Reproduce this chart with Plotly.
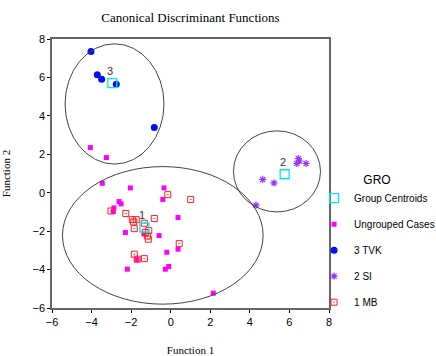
import plotly.graph_objects as go

# Group centroids
cent_x = [-1.33, 5.76, -2.95]
cent_y = [-1.81, 0.96, 5.70]
cent_lbl = ["1", "2", "3"]

# Ungrouped cases
ung_x = [-4.06, -3.25, -3.46, -2.04, -0.34, -0.40, -2.61, -2.51, -2.87, -2.90, 0.37,
         -2.29, -0.59, -1.35, -0.20, 0.37, -1.70, -2.19, -0.10, -0.27, 2.15]
ung_y = [2.35, 1.83, 0.49, 0.25, 0.25, -0.35, -0.46, -0.58, -0.79, -0.98, -1.29,
         -2.07, -2.23, -2.15, -3.10, -2.94, -3.48, -3.98, -3.84, -3.98, -5.23]

# 3 TVK
tvk_x = [-4.03, -3.71, -3.49, -2.75, -0.83]
tvk_y = [7.35, 6.14, 5.91, 5.65, 3.40]

# 2 SI
si_x = [6.45, 6.50, 6.37, 6.84, 4.65, 5.22, 4.31]
si_y = [1.78, 1.65, 1.52, 1.52, 0.69, 0.51, -0.65]

# 1 MB
mb_x = [-0.15, 1.01, -3.02, -2.27, -0.83, -1.94, -1.74, -1.87, -1.33, -1.84, -1.11,
        -1.28, -1.18, -1.13, 0.43, -1.84, -1.69, -1.33]
mb_y = [-0.10, -0.35, -0.95, -1.08, -1.34, -1.40, -1.40, -1.52, -1.59, -1.87, -1.97,
        -2.07, -2.25, -2.42, -2.65, -3.20, -3.46, -3.43]

# Ellipses around groups (center x, center y, radius x, radius y)
ell_cx = [-0.40, 5.37, -2.84]
ell_cy = [-2.22, 1.11, 4.62]
ell_rx = [5.07, 2.20, 2.50]
ell_ry = [3.58, 2.11, 3.13]

ticks = [-6, -4, -2, 0, 2, 4, 6, 8]

fig = go.Figure()
fig.add_trace(go.Scatter(x=ung_x, y=ung_y, mode="markers", name="Ungrouped Cases",
                         legendgroup="b", legendrank=2,
                         marker=dict(symbol="square", size=5, color="#ff00ff")))
fig.add_trace(go.Scatter(x=tvk_x, y=tvk_y, mode="markers", name="3 TVK",
                         legendgroup="c", legendrank=3,
                         marker=dict(symbol="circle", size=7, color="#0010f0")))
fig.add_trace(go.Scatter(x=si_x, y=si_y, mode="markers", name="2 SI",
                         legendgroup="d", legendrank=4,
                         marker=dict(symbol="asterisk-open", size=6, color="#9933ff",
                                     line=dict(color="#9933ff", width=1.2))))
fig.add_trace(go.Scatter(x=mb_x, y=mb_y, mode="markers", name="1 MB",
                         legendgroup="e", legendrank=5,
                         marker=dict(symbol="square-open-dot", size=6, color="#ff2020",
                                     line=dict(width=1))))
fig.add_trace(go.Scatter(x=cent_x, y=cent_y, mode="markers", name="Group Centroids",
                         legendgroup="a", legendrank=1,
                         marker=dict(symbol="square-open", size=9, color="#00e8f0",
                                     line=dict(width=1.3))))

for cx, cy, rx, ry in zip(ell_cx, ell_cy, ell_rx, ell_ry):
    fig.add_shape(type="circle", xref="x", yref="y",
                  x0=cx - rx, x1=cx + rx, y0=cy - ry, y1=cy + ry,
                  line=dict(color="#444444", width=1))

for x, y, t in zip(cent_x, cent_y, cent_lbl):
    fig.add_annotation(x=x, y=y, text=t, showarrow=False, yshift=12, xshift=-2,
                       font=dict(family="Liberation Sans", size=11, color="#333333"))

axis_common = dict(range=[-6, 8], tickvals=ticks, ticks="outside", ticklen=3,
                   tickcolor="#000000", showgrid=False, zeroline=False,
                   showline=True, linecolor="#666666", linewidth=1.5, mirror=True,
                   automargin=False,
                   tickfont=dict(family="Liberation Sans", size=11, color="#000000"))

fig.update_layout(
    width=436, height=356,
    margin=dict(l=52, r=107, t=39, b=48, autoexpand=False),
    paper_bgcolor="white", plot_bgcolor="white",
    title=dict(text="Canonical Discriminant Functions", x=0.5, xref="paper",
               y=1 - 17 / 356, yref="container", yanchor="middle",
               font=dict(family="Liberation Serif", size=13, color="#000000")),
    xaxis=dict(axis_common, title=dict(text="Function 1", standoff=26,
               font=dict(family="Liberation Serif", size=11, color="#000000"))),
    yaxis=dict(axis_common, title=dict(text="Function 2", standoff=20,
               font=dict(family="Liberation Serif", size=11, color="#000000"))),
    legend=dict(x=0.946, xanchor="left", y=0.52, yanchor="top",
                traceorder="grouped", tracegroupgap=7, itemwidth=30,
                title=dict(text="GRO", side="top center",
                           font=dict(family="Liberation Sans", size=12, color="#000000")),
                font=dict(family="Liberation Sans", size=10, color="#000000"),
                bgcolor="rgba(0,0,0,0)"),
    showlegend=True,
)

fig.write_html("out.html")
